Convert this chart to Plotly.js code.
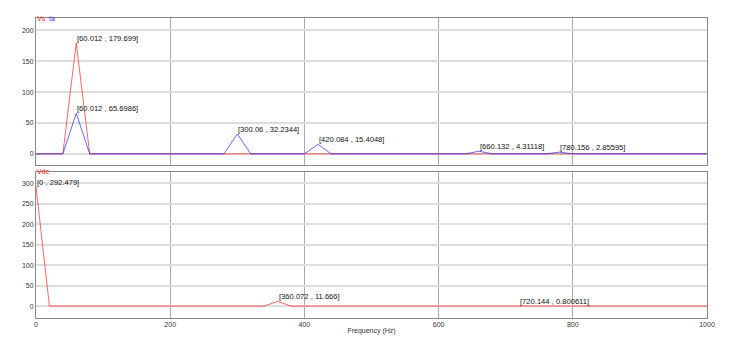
<!DOCTYPE html>
<html>
<head>
<meta charset="utf-8">
<script src="https://cdn.plot.ly/plotly-3.0.1.min.js"></script>
<style>html,body{margin:0;padding:0;background:#fff;}#chart{width:737px;height:350px;}</style>
</head>
<body>
<div id="chart"></div>
<script>
var freq = [0, 20.004, 40.008, 60.012, 80.016, 100.02, 120.024, 140.028, 160.032, 180.036,
  200.04, 220.044, 240.048, 260.052, 280.056, 300.06, 320.064, 340.068, 360.072, 380.076,
  400.08, 420.084, 440.088, 460.092, 480.096, 500.1, 520.104, 540.108, 560.112, 580.116,
  600.12, 620.124, 640.128, 660.132, 680.136, 700.14, 720.144, 740.148, 760.152, 780.156,
  800.16, 820.164, 840.168, 860.172, 880.176, 900.18, 920.184, 940.188, 960.192, 980.196, 1000.2];
var vs = [0, 0, 0, 179.699, 0, 0, 0, 0, 0, 0,
  0, 0, 0, 0, 0, 0, 0, 0, 0, 0,
  0, 0, 0, 0, 0, 0, 0, 0, 0, 0,
  0, 0, 0, 1.2, 0, 0, 0, 0, 0, 0.9,
  0, 0, 0, 0, 0, 0, 0, 0, 0, 0, 0];
var ia = [0, 0, 0, 65.6986, 0, 0, 0, 0, 0, 0,
  0, 0, 0, 0, 0, 32.2344, 0, 0, 0, 0,
  0, 15.4048, 0, 0, 0, 0, 0, 0, 0, 0,
  0, 0, 0, 4.31118, 0, 0, 0, 0, 0, 2.85595,
  0, 0, 0, 0, 0, 0, 0, 0, 0, 0, 0];
var vdc = [292.479, 0, 0, 0, 0, 0, 0, 0, 0, 0,
  0, 0, 0, 0, 0, 0, 0, 0, 11.666, 0,
  0, 0, 0, 0, 0, 0, 0, 0, 0, 0,
  0, 0, 0, 0, 0, 0, 0.800611, 0, 0, 0,
  0, 0, 0, 0, 0, 0, 0, 0, 0, 0, 0];
var topNames = ["Vs", "Ia"];
var bottomNames = ["Vdc"];
var xTicks = [0, 200, 400, 600, 800, 1000];
var topLabelIdx = {Vs: [3], Ia: [3, 15, 21, 33, 39]};
var bottomLabelIdx = [0, 18, 36];

var red = "rgba(255,0,0,0.6)";
var blue = "rgba(0,0,255,0.6)";

var traces = [
  {x: freq, y: vs, name: topNames[0], type: "scatter", mode: "lines", line: {color: red, width: 1}, xaxis: "x", yaxis: "y"},
  {x: freq, y: ia, name: topNames[1], type: "scatter", mode: "lines", line: {color: blue, width: 1}, xaxis: "x", yaxis: "y"},
  {x: freq, y: vdc, name: bottomNames[0], type: "scatter", mode: "lines", line: {color: red, width: 1}, xaxis: "x2", yaxis: "y2"}
];

function fmt(v) { return String(v); }
var annFont = {family: "Liberation Sans, Arial, sans-serif", size: 7.6, color: "#111"};
var anns = [];
topLabelIdx.Vs.forEach(function (i) {
  anns.push({x: freq[i], y: vs[i], xref: "x", yref: "y", text: "[" + fmt(freq[i]) + " , " + fmt(vs[i]) + "]",
    showarrow: false, xanchor: "left", yanchor: "bottom", font: annFont, borderpad: 0, yshift: -1});
});
topLabelIdx.Ia.forEach(function (i) {
  anns.push({x: freq[i], y: ia[i], xref: "x", yref: "y", text: "[" + fmt(freq[i]) + " , " + fmt(ia[i]) + "]",
    showarrow: false, xanchor: "left", yanchor: "bottom", font: annFont, borderpad: 0, yshift: -1});
});
bottomLabelIdx.forEach(function (i) {
  anns.push({x: freq[i], y: vdc[i], xref: "x2", yref: "y2", text: "[" + fmt(freq[i]) + " , " + fmt(vdc[i]) + "]",
    showarrow: false, xanchor: "left", yanchor: "bottom", font: annFont, borderpad: 0, yshift: -1});
});
var legFont = {family: "Liberation Sans, Arial, sans-serif", size: 7};
anns.push({x: 0, y: 1, xref: "x domain", yref: "y domain", text: topNames[0], showarrow: false, xanchor: "left", yanchor: "middle", font: Object.assign({}, legFont, {color: "#ff2020"}), borderpad: 0, xshift: 0});
anns.push({x: 0, y: 1, xref: "x domain", yref: "y domain", text: topNames[1], showarrow: false, xanchor: "left", yanchor: "middle", font: Object.assign({}, legFont, {color: "#3030ff"}), borderpad: 0, xshift: 12});
anns.push({x: 0, y: 1, xref: "x2 domain", yref: "y2 domain", text: bottomNames[0], showarrow: false, xanchor: "left", yanchor: "middle", font: Object.assign({}, legFont, {color: "#ff2020"}), borderpad: 0});

var tickFont = {family: "Liberation Sans, Arial, sans-serif", size: 7, color: "#333"};
var axCommon = {showline: true, linecolor: "#888", linewidth: 1, mirror: true, zeroline: false, ticks: "", tickfont: tickFont};

var layout = {
  width: 737, height: 350,
  margin: {l: 36, r: 30, t: 18, b: 32, pad: 0},
  paper_bgcolor: "#fff", plot_bgcolor: "#fff",
  showlegend: false,
  xaxis: Object.assign({}, axCommon, {domain: [0, 1], range: [0, 1000], tickvals: xTicks, showticklabels: false, gridcolor: "#aaa", gridwidth: 1, anchor: "y"}),
  yaxis: Object.assign({}, axCommon, {domain: [0.51, 1], range: [-18, 220], tickvals: [0, 50, 100, 150, 200], gridcolor: "#ddd", gridwidth: 2, anchor: "x"}),
  xaxis2: Object.assign({}, axCommon, {domain: [0, 1], range: [0, 1000], tickvals: xTicks, gridcolor: "#aaa", gridwidth: 1, anchor: "y2",
    title: {text: "Frequency (Hz)", font: {family: "Liberation Sans, Arial, sans-serif", size: 7, color: "#333"}, standoff: 0}}),
  yaxis2: Object.assign({}, axCommon, {domain: [0, 0.4867], range: [-29, 328], tickvals: [0, 50, 100, 150, 200, 250, 300], gridcolor: "#ddd", gridwidth: 2, anchor: "x2"}),
  annotations: anns
};
Plotly.newPlot("chart", traces, layout, {displayModeBar: false, staticPlot: true});
</script>
</body>
</html>
